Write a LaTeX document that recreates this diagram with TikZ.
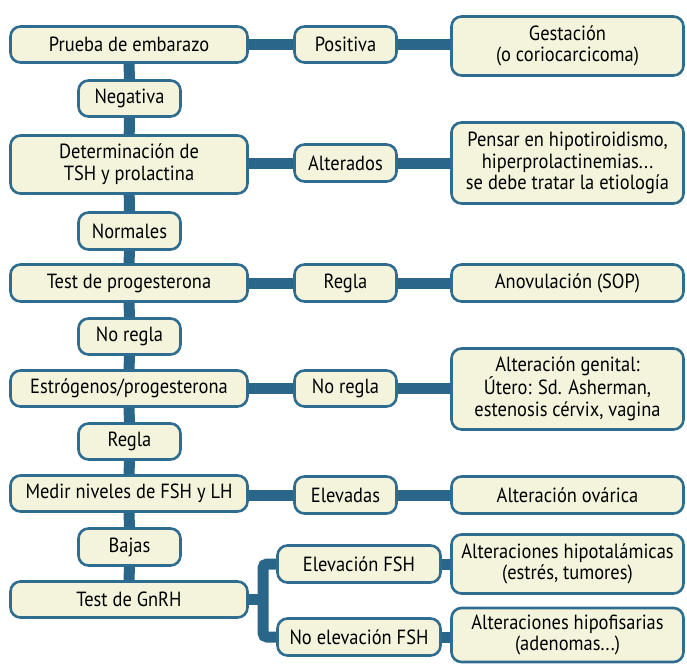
\documentclass[tikz,border=0pt]{standalone}
\usepackage{fontspec}
\setmainfont[FakeStretch=0.9]{PT Sans}
\usetikzlibrary{backgrounds}
\definecolor{bord}{HTML}{2E6C90}
\definecolor{bar}{HTML}{2A6689}
\definecolor{cream}{HTML}{F4F4DC}
\tikzset{
  box/.style={draw=bord, fill=cream, line width=2.6pt, rounded corners=10pt,
    align=center, inner sep=0pt, font=\fontsize{20.5}{21.7}\selectfont, text=black},
  conn/.style={draw=bar, line width=11pt},
}
\begin{document}
\begin{tikzpicture}[x=1pt,y=-1pt]
\useasboundingbox (0,0) rectangle (687,664);
% main column
\node[box, minimum width=237pt, minimum height=36pt] (m1) at (129,44.5) {Prueba de embarazo};
\node[box, minimum width=102pt, minimum height=36pt] (l1) at (129.5,98.5) {Negativa};
\node[box, minimum width=237pt, minimum height=58pt] (m2) at (129,164.5) {Determinación de\\TSH y prolactina};
\node[box, minimum width=102pt, minimum height=37pt] (l2) at (129.5,231) {Normales};
\node[box, minimum width=237pt, minimum height=37pt] (m3) at (129,283) {Test de progesterona};
\node[box, minimum width=102pt, minimum height=36pt] (l3) at (129.5,336.5) {No regla};
\node[box, minimum width=237pt, minimum height=36pt] (m4) at (129,388.5) {Estrógenos/progesterona};
\node[box, minimum width=102pt, minimum height=36pt] (l4) at (129.5,441.5) {Regla};
\node[box, minimum width=237pt, minimum height=36pt] (m5) at (129,493.5) {Medir niveles de FSH y LH};
\node[box, minimum width=102pt, minimum height=37pt] (l5) at (129.5,547) {Bajas};
\node[box, minimum width=237pt, minimum height=36pt] (m6) at (129,599.5) {Test de GnRH};
% middle column
\node[box, minimum width=102pt, minimum height=36pt] (c1) at (345.5,44.5) {Positiva};
\node[box, minimum width=102pt, minimum height=37pt] (c2) at (345.5,163) {Alterados};
\node[box, minimum width=102pt, minimum height=37pt] (c3) at (345.5,283) {Regla};
\node[box, minimum width=102pt, minimum height=36pt] (c4) at (345.5,388.5) {No regla};
\node[box, minimum width=102pt, minimum height=37pt] (c5) at (345.5,495) {Elevadas};
\node[box, minimum width=163pt, minimum height=37pt] (c6) at (359,564) {Elevación FSH};
\node[box, minimum width=163pt, minimum height=37pt] (c7) at (359,637) {No elevación FSH};
% right column
\node[box, minimum width=232pt, minimum height=59pt] (r1) at (567.5,46) {Gestación\\(o coriocarcicoma)};
\node[box, minimum width=232pt, minimum height=81pt] (r2) at (567.5,163) {Pensar en hipotiroidismo,\\hiperprolactinemias...\\se debe tratar la etiología};
\node[box, minimum width=232pt, minimum height=37pt] (r3) at (567.5,283) {Anovulación (SOP)};
\node[box, minimum width=232pt, minimum height=81pt] (r4) at (567.5,389) {Alteración genital:\\Útero: Sd. Asherman,\\estenosis cérvix, vagina};
\node[box, minimum width=232pt, minimum height=37pt] (r5) at (567.5,495) {Alteración ovárica};
\node[box, minimum width=232pt, minimum height=59pt] (r6) at (567.5,564) {Alteraciones hipotalámicas\\(estrés, tumores)};
\node[box, minimum width=232pt, minimum height=54pt] (r7) at (567.5,635) {Alteraciones hipofisarias\\(adenomas...)};
\coordinate (jt) at (263,564);
\coordinate (jb) at (263,637);
\begin{scope}[on background layer]
\draw[conn] (m1) -- (l1) -- (m2) -- (l2) -- (m3) -- (l3) -- (m4) -- (l4) -- (m5) -- (l5) -- (m6);
\draw[conn] (m1.east) -- (c1.west);
\draw[conn] (c1.east) -- (c1.east -| r1.west);
\draw[conn] (m2.east |- c2) -- (c2.west);
\draw[conn] (c2.east) -- (r2.west |- c2);
\draw[conn] (m3.east) -- (c3.west);
\draw[conn] (c3.east) -- (r3.west);
\draw[conn] (m4.east) -- (c4.west);
\draw[conn] (c4.east) -- (r4.west |- c4);
\draw[conn] (m5.east |- c5) -- (c5.west);
\draw[conn] (c5.east) -- (r5.west);
\draw[conn] (m6.east) -- (m6.east -| jt);
\draw[conn, rounded corners=4pt] (c6.west) -- (jt) -- (jb) -- (c7.west);
\draw[conn] (c6.east) -- (r6.west);
\draw[conn] (c7.east) -- (r7.west |- c7);
\end{scope}
\end{tikzpicture}
\end{document}
